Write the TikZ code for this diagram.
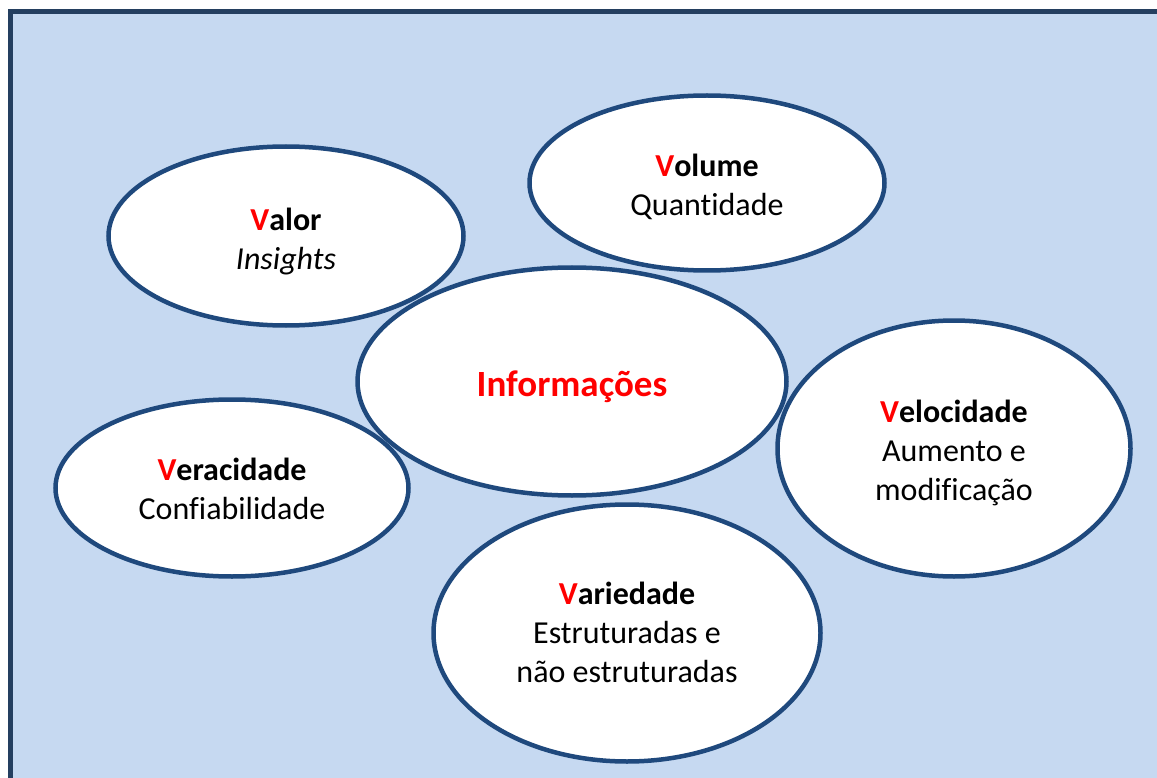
\documentclass[tikz,border=0pt]{standalone}
\usepackage{fontspec}
\setmainfont{Carlito}[Ligatures=NoCommon]
\usetikzlibrary{shapes.geometric}
\definecolor{bgblue}{HTML}{C6D9F1}
\definecolor{framecol}{HTML}{243F60}
\definecolor{ellline}{HTML}{1F497D}
\definecolor{vred}{HTML}{FF0000}
\newcommand{\vv}{\textcolor{vred}{V}}
\begin{document}
\begin{tikzpicture}[x=1pt,y=-1pt,
  ell/.style={ellipse, draw=ellline, line width=4.5pt, fill=white, inner sep=0pt},
  txt/.style={inner sep=0pt, align=center, font=\fontsize{32}{39}\selectfont},
  centertxt/.style={txt, font=\fontsize{37}{44}\selectfont\bfseries, text=vred}
]
\useasboundingbox (0,0) rectangle (1157,778);
\clip (0,0) rectangle (1157,778);
\fill[white] (0,0) rectangle (1157,778);
\draw[framecol, line width=5pt, fill=bgblue] (10.5,11.5) rectangle (1180,800);

% ellipses
\node[ell, minimum width=429pt, minimum height=228pt] (info) at (572,381.5) {};
\node[ell, minimum width=355pt, minimum height=179pt] (valor) at (286,236) {};
\node[ell, minimum width=355pt, minimum height=175pt] (volume) at (707,183) {};
\node[ell, minimum width=353pt, minimum height=256pt] (veloc) at (954,448.5) {};
\node[ell, minimum width=353pt, minimum height=177pt] (verac) at (232,488) {};
\node[ell, minimum width=387pt, minimum height=257pt] (varied) at (627,633) {};

% texts
\node[centertxt] (infot) at (572,386.5) {Informações};
\node[txt] (valort) at (286,242) {\textbf{\vv alor}\\\textit{Insights}};
\node[txt] (volumet) at (707,187) {\textbf{\vv olume}\\Quantidade};
\node[txt] (veloct) at (954,452.5) {\textbf{\vv elocidade}\\Aumento e\\modificação};
\node[txt] (veract) at (232,489) {\textbf{\vv eracidade}\\Confiabilidade};
\node[txt] (variedt) at (627,632) {\textbf{\vv ariedade}\\Estruturadas e\\não estruturadas};
\end{tikzpicture}
\end{document}
